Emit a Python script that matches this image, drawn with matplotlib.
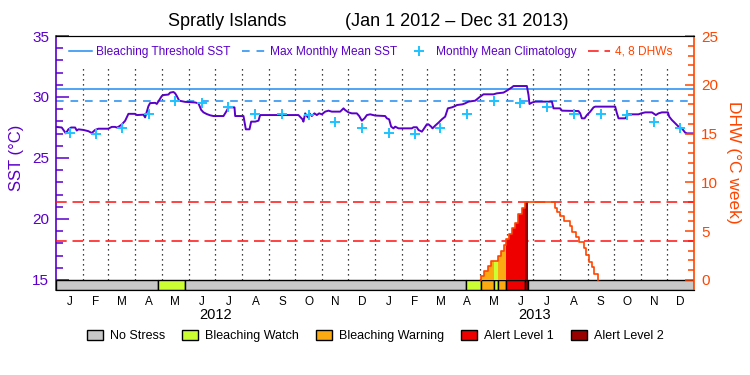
import numpy as np
import matplotlib
matplotlib.use("Agg")
import matplotlib.pyplot as plt
import matplotlib.transforms as mtransforms
from matplotlib.lines import Line2D
from matplotlib.patches import Patch
from matplotlib.ticker import MultipleLocator, FixedLocator

plt.rcParams["font.family"] = ["Liberation Sans", "DejaVu Sans"]

# ── data (x = days since 1 Jan 2012) ──────────────────────────────────────────
sst_day = [0.0, 6.6, 11.2, 14.2, 17.3, 21.9, 23.8, 25.7, 31.4, 37.1, 41.0, 44.8,
           48.6, 60.0, 63.9, 67.7, 69.5, 71.5, 75.4, 79.2, 83.0, 90.6, 92.6,
           100.2, 102.1, 104.0, 105.9, 107.8, 113.6, 115.5, 117.4, 121.2, 123.1,
           128.8, 130.8, 134.6, 136.5, 138.4, 141.1, 148.0, 159.4, 163.2, 166.3,
           169.0, 172.8, 176.6, 180.4, 191.9, 195.0, 197.6, 204.5, 205.3, 214.8,
           215.9, 217.5, 221.7, 223.6, 228.2, 232.0, 233.9, 277.8, 282.4, 283.5,
           285.5, 288.5, 290.4, 293.1, 296.1, 298.9, 301.5, 304.6, 308.4, 312.2,
           316.0, 325.6, 329.4, 331.3, 335.1, 338.9, 344.7, 347.4, 350.4, 353.5,
           356.2, 360.0, 365.7, 377.1, 379.1, 381.7, 384.0, 386.7, 388.6, 392.4,
           407.7, 409.6, 413.4, 415.3, 419.2, 421.1, 424.9, 426.8, 429.8, 431.4,
           434.4, 438.3, 442.1, 445.9, 449.0, 453.6, 457.4, 459.3, 465.7, 468.8,
           472.6, 480.3, 482.2, 486.0, 489.8, 501.3, 505.1, 512.7, 516.6, 522.3,
           524.2, 539.5, 541.4, 542.5, 545.3, 549.0, 568.2, 570.0, 577.7, 579.6,
           598.7, 600.6, 602.5, 605.6, 608.3, 612.1, 615.9, 617.8, 640.7, 642.7,
           644.5, 652.2, 656.0, 667.4, 670.5, 675.1, 682.8, 687.3, 690.4, 694.2,
           701.1, 702.6, 705.7, 707.6, 711.4, 713.3, 717.1, 720.9, 722.9, 731.0]
sst_val = [27.55, 27.50, 27.02, 27.35, 27.50, 27.50, 27.25, 27.35, 27.30, 27.20,
           27.05, 27.30, 27.40, 27.40, 27.55, 27.55, 27.50, 27.55, 27.75, 28.05,
           28.62, 28.62, 28.52, 28.55, 28.33, 28.80, 29.25, 29.50, 29.52, 29.43,
           29.65, 30.08, 30.16, 30.20, 30.36, 30.41, 30.30, 30.08, 29.70, 29.60,
           29.55, 29.48, 28.95, 28.74, 28.60, 28.50, 28.44, 28.44, 28.80, 29.15,
           29.15, 28.44, 28.44, 27.98, 27.35, 27.35, 27.98, 27.98, 28.06, 28.52,
           28.52, 28.17, 27.98, 28.66, 28.33, 28.66, 28.44, 28.66, 28.52, 28.66,
           28.58, 28.80, 28.88, 28.80, 28.80, 29.07, 28.93, 28.74, 28.66, 28.66,
           28.44, 28.06, 28.25, 28.52, 28.58, 28.48, 28.44, 28.25, 28.17, 27.57,
           27.43, 27.57, 27.43, 27.43, 27.52, 27.52, 27.30, 27.16, 27.35, 27.76,
           27.76, 27.57, 27.43, 27.65, 27.90, 28.17, 28.39, 29.07, 29.15, 29.26,
           29.34, 29.40, 29.48, 29.62, 29.70, 29.81, 30.03, 30.22, 30.22, 30.30,
           30.36, 30.52, 30.79, 30.90, 30.90, 30.16, 29.43, 29.54, 29.62, 29.62,
           29.07, 29.07, 28.88, 28.85, 28.66, 28.25, 28.25, 28.52, 28.80, 29.15,
           29.21, 29.21, 28.66, 28.25, 28.25, 28.58, 28.58, 28.66, 28.74, 28.74,
           28.52, 28.66, 28.74, 28.74, 28.39, 28.11, 27.98, 27.70, 27.57, 27.43,
           27.08, 27.02, 27.02]

clim_val = [27.05, 26.94, 27.49, 28.58, 29.65, 29.48, 29.21, 28.58, 28.58, 28.50, 27.98, 27.43]
BLEACH_THRESH = 30.65
MMM = 29.65
DHW_LEVELS = [4, 8]

dhw_day = [487.2, 490.6, 494.4, 498.6, 505.9, 509.7, 512.8, 515.8, 519.6, 522.7,
           526.1, 529.9, 533.8, 536.8, 572.0, 574.6, 577.7, 582.6, 588.4, 591.1,
           596.1, 599.8, 604.4, 606.7, 610.9, 613.6, 616.6, 620.5]
dhw_val = [0.44, 0.92, 1.47, 1.95, 2.46, 2.97, 3.59, 4.17, 4.68, 5.29, 5.87, 6.73,
           7.34, 7.97, 7.41, 7.00, 6.59, 6.05, 5.57, 4.95, 4.44, 3.93, 3.31, 2.56,
           1.88, 1.37, 0.58, 0.0]

stress_start = [0, 117, 148, 470.3, 487.2, 501.3, 505.9, 515.8, 536.8, 540.6]
stress_end = [117, 148, 470.3, 487.2, 501.3, 505.9, 515.8, 536.8, 540.6, 731]
stress_level = [0, 1, 0, 1, 2, 1, 2, 3, 4, 0]

level_names = ["No Stress", "Bleaching Watch", "Bleaching Warning", "Alert Level 1", "Alert Level 2"]
level_colors = ["#c8c8c8", "#ccff33", "#fbaa12", "#ee0000", "#990000"]
month_letters = list("JFMAMJJASOND") * 2
year_labels = ["2012", "2013"]

# ── styling ────────────────────────────────────────────────────────────────────
PURPLE = "#5a00c8"
BLUE = "#1e8cf0"
CYAN = "#1ec3ff"
ORANGE_RED = "#ff4500"
RED = "#ff1010"
Y_BOT = 14.18

month_start = (np.arange("2012-01", "2014-02", dtype="datetime64[M]").astype("datetime64[D]")
               - np.datetime64("2012-01-01")).astype(int)
month_mid = (month_start[:-1] + month_start[1:]) / 2.0

fig = plt.figure(figsize=(7.5, 3.75), dpi=100)
ax = fig.add_axes([56 / 750, 1 - 290 / 375, 638 / 750, 254 / 375])
ax.set_xlim(0, month_start[-1])
ax.set_ylim(Y_BOT, 35)

# month dividers
ax.vlines(month_start[1:-1], 15, 32.55, colors="k", linestyles=(0, (1, 3)), lw=0.9, zorder=1)

ax.axhline(BLEACH_THRESH, color=BLUE, lw=1.1, zorder=2)
ax.axhline(MMM, color=BLUE, lw=1.1, dashes=(5, 4.5), zorder=2)
ax.plot(sst_day, sst_val, color=PURPLE, lw=1.4, zorder=4)
ax.plot(month_mid, clim_val * 2, "+", ms=7, mew=1.4, color=CYAN, zorder=5)

# stress bar
ax.bar(stress_start, 15 - Y_BOT, width=np.array(stress_end) - np.array(stress_start),
       bottom=Y_BOT, align="edge", color=[level_colors[l] for l in stress_level],
       edgecolor="black", linewidth=1, zorder=3)

ax.yaxis.set_major_locator(MultipleLocator(5))
ax.yaxis.set_minor_locator(MultipleLocator(1))
ax.tick_params(axis="y", which="both", direction="in", color=PURPLE, labelcolor=PURPLE,
               width=1.1, labelsize=11, pad=5)
ax.tick_params(axis="y", which="major", length=9.5)
ax.tick_params(axis="y", which="minor", length=5)
ax.set_xticks(month_mid)
ax.set_xticklabels(month_letters, fontsize=8.5)
ax.tick_params(axis="x", length=0, pad=4)
ax.spines["left"].set_color(PURPLE)
ax.spines["left"].set_linewidth(1.2)
ax.spines["right"].set_visible(False)

trans = mtransforms.blended_transform_factory(ax.transData, ax.transAxes)
for i, yl in enumerate(year_labels):
    ax.text((month_start[12 * i] + month_start[12 * i + 12]) / 2, -0.098, yl,
            transform=trans, ha="center", va="center", fontsize=10.5)

# DHW axis
ax2 = ax.twinx()
ax2.set_ylim((Y_BOT - 15) * 1.25, 25)
for lv in DHW_LEVELS:
    ax2.axhline(lv, color=RED, lw=1.1, dashes=(7, 3.8), zorder=2)

for i in range(len(dhw_day) - 1):
    lo, hi, v = dhw_day[i], dhw_day[i + 1], dhw_val[i]
    for s, e, lvl in zip(stress_start, stress_end, stress_level):
        a, b = max(lo, s), min(hi, e)
        if lvl > 0 and b > a:
            ax2.bar(a, v, width=b - a, align="edge", color=level_colors[lvl], lw=0, zorder=3)
ax2.step([dhw_day[0]] + dhw_day, [0] + dhw_val, where="post", color=ORANGE_RED, lw=1.2, zorder=4)

ax2.yaxis.set_major_locator(MultipleLocator(5))
ax2.yaxis.set_minor_locator(FixedLocator(np.arange(0, 26, 1)))
ax2.tick_params(axis="y", which="both", direction="in", color=ORANGE_RED, labelcolor=ORANGE_RED,
                width=1.1, labelsize=11, pad=5)
ax2.tick_params(axis="y", which="major", length=6.5)
ax2.tick_params(axis="y", which="minor", length=4)
ax2.spines["right"].set_color(ORANGE_RED)
ax2.spines["right"].set_linewidth(1.2)
ax2.spines["left"].set_visible(False)

# axis labels and title
fig.text(16 / 750, 1 - 158 / 375, "SST (°C)", rotation=90, ha="center", va="center",
         color=PURPLE, fontsize=12)
fig.text(733 / 750, 1 - 162 / 375, "DHW (°C week)", rotation=270, ha="center", va="center",
         color=ORANGE_RED, fontsize=12.5)
fig.text(227 / 750, 1 - 22 / 375, "Spratly Islands", ha="center", va="center", fontsize=13)
fig.text(457 / 750, 1 - 22 / 375, "(Jan 1 2012 – Dec 31 2013)", ha="center", va="center", fontsize=13)

# top legend
handles = [Line2D([], [], color=BLUE, lw=1.1),
           Line2D([], [], color=BLUE, lw=1.1, dashes=(5, 4.5)),
           Line2D([], [], color=CYAN, marker="+", ls="none", ms=7, mew=1.4),
           Line2D([], [], color=RED, lw=1.1, dashes=(7, 3.8))]
labels = ["Bleaching Threshold SST", "Max Monthly Mean SST", "Monthly Mean Climatology", "4, 8 DHWs"]
leg = ax2.legend(handles, labels, loc="center left", bbox_to_anchor=(13 / 638, 238 / 254),
                 ncol=4, frameon=False, fontsize=8.6, handlelength=1.9, handletextpad=0.4,
                 columnspacing=0.95, borderpad=0, borderaxespad=0)
for t, c in zip(leg.get_texts(), [PURPLE, PURPLE, PURPLE, ORANGE_RED]):
    t.set_color(c)

# bottom legend
patches = [Patch(facecolor=c, edgecolor="black", lw=1) for c in level_colors]
fig.legend(patches, level_names, loc="center", bbox_to_anchor=(0.5, 1 - 336 / 375), ncol=5,
           frameon=False, fontsize=9, handlelength=1.3, handleheight=0.9,
           handletextpad=0.55, columnspacing=1.35)

fig.savefig("out.png", dpi=100)
